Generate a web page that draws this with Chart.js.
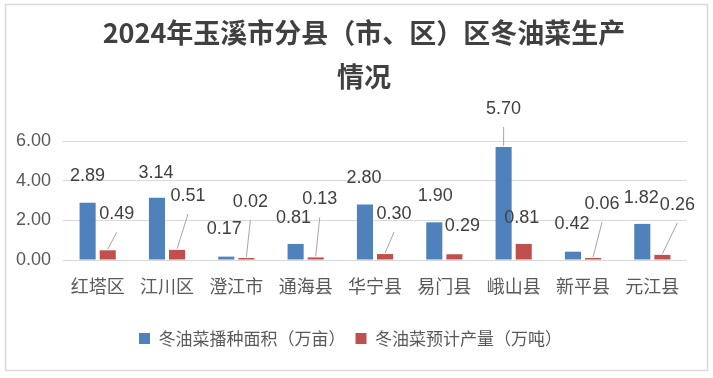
<!DOCTYPE html>
<html>
<head>
<meta charset="utf-8">
<script src="https://cdn.jsdelivr.net/npm/chart.js@4"></script>
<style>
    body { margin: 0; background: #fff; }
    canvas { display: block; }
</style>
</head>
<body>
<canvas id="chartOilseed" width="713" height="378"></canvas>
<script>
// === DONNÉES ===
const counties = ["红塔区", "江川区", "澄江市", "通海县", "华宁县", "易门县", "峨山县", "新平县", "元江县"];
const plantingArea = [2.89, 3.14, 0.17, 0.81, 2.80, 1.90, 5.70, 0.42, 1.82];
const expectedYield = [0.49, 0.51, 0.02, 0.13, 0.30, 0.29, 0.81, 0.06, 0.26];
const yTicks = [0, 2, 4, 6];
const seriesNames = ["冬油菜播种面积（万亩）", "冬油菜预计产量（万吨）"];
const titleLines = ["2024年玉溪市分县（市、区）区冬油菜生产", "情况"];

// === STYLE ===
const textColor = "#595959";
const numFont = "'Liberation Sans Narrow', 'Liberation Sans', sans-serif";
const cjkFont = "'Noto Sans CJK SC', sans-serif";

// décalage des étiquettes (dx, dy) par rapport au sommet de la barre
const labelShift = [
    [[0, -27], [-1, -25], [-2, -28], [-2, -26], [-1, -26], [1, -26], [0, -38], [-1, -28], [-1, -26]],
    [[9, -36], [11, -54], [4, -56], [4, -58], [9, -40], [8, -28], [-2, -26], [9, -54], [15, -50]]
];

// === FOND + CADRE ===
const frame = {
    id: "frame",
    afterLayout(chart) {
        // le titre est un peu décalé vers la droite dans l'original
        chart.titleBlock.left = 41;
    },
    beforeDraw(chart) {
        const c = chart.ctx;
        c.save();
        c.fillStyle = "#fff";
        c.fillRect(0, 0, chart.width, chart.height);
        c.strokeStyle = "#d9d9d9";
        c.lineWidth = 1.5;
        c.strokeRect(5.5, 4.5, 702, 366);
        c.restore();
    }
};

// === ÉTIQUETTES AVEC LIGNES DE RAPPEL ===
const valueLabels = {
    id: "valueLabels",
    afterDatasetsDraw(chart) {
        const c = chart.ctx;
        c.save();
        c.font = "18px " + numFont;
        c.fillStyle = "#404040";
        c.textAlign = "center";
        c.textBaseline = "middle";
        chart.data.datasets.forEach((ds, i) => {
            chart.getDatasetMeta(i).data.forEach((bar, j) => {
                let shift = labelShift[i][j];
                let lx = bar.x + shift[0];
                let ly = bar.y + shift[1];
                if (shift[1] < -32) {
                    c.strokeStyle = "#a6a6a6";
                    c.lineWidth = 1;
                    c.beginPath();
                    c.moveTo(bar.x, bar.y - 1);
                    c.lineTo(lx, ly + 18);
                    c.stroke();
                }
                c.fillText(ds.data[j].toFixed(2), lx, ly);
            });
        });
        c.restore();
    }
};

// === GRAPHIQUE ===
new Chart(document.getElementById("chartOilseed"), {
    type: "bar",
    data: {
        labels: counties,
        datasets: [{
            label: seriesNames[0],
            data: plantingArea,
            backgroundColor: "#4f81bd"
        }, {
            label: seriesNames[1],
            data: expectedYield,
            backgroundColor: "#c0504d"
        }]
    },
    options: {
        responsive: false,
        devicePixelRatio: 1,
        animation: false,
        datasets: {
            bar: { barPercentage: 0.8, categoryPercentage: 0.58, minBarLength: 2 }
        },
        layout: { padding: { top: 6, left: 14, right: 26, bottom: 21 } },
        scales: {
            x: {
                grid: { display: false, drawTicks: false },
                border: { display: false },
                ticks: { color: textColor, font: { family: cjkFont, size: 18 }, padding: 15 },
                afterFit(scale) { scale.height = 60; }
            },
            y: {
                min: yTicks[0],
                max: yTicks[yTicks.length - 1],
                grid: { color: "#d9d9d9", lineWidth: 1, drawTicks: false },
                border: { display: false },
                afterBuildTicks(scale) { scale.ticks = yTicks.map(v => ({ value: v })); },
                ticks: {
                    color: textColor,
                    font: { family: numFont, size: 18 },
                    padding: 12,
                    callback: v => v.toFixed(2)
                },
                afterFit(scale) { scale.width = 49; }
            }
        },
        plugins: {
            title: {
                display: true,
                text: titleLines,
                color: "#404040",
                font: { family: cjkFont, size: 27, weight: "bold", lineHeight: 1.63 },
                padding: { top: 5, bottom: 42 }
            },
            legend: {
                position: "bottom",
                labels: {
                    color: textColor,
                    font: { family: cjkFont, size: 17 },
                    boxWidth: 11,
                    boxHeight: 11,
                    padding: 10
                }
            },
            tooltip: { enabled: false }
        }
    },
    plugins: [frame, valueLabels]
});
</script>
</body>
</html>
